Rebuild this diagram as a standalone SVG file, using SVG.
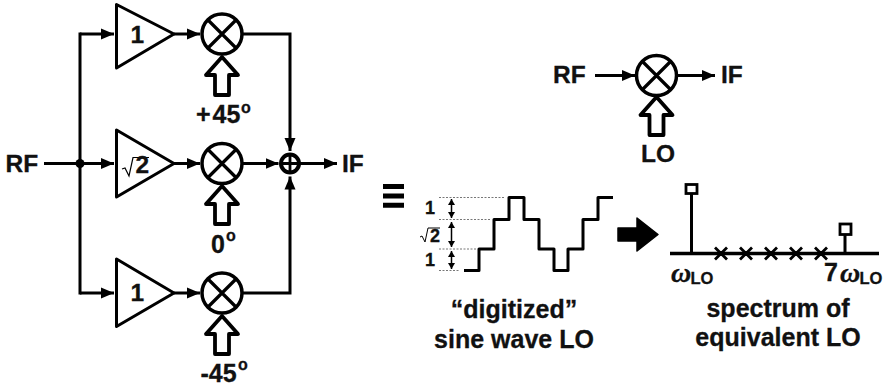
<svg xmlns="http://www.w3.org/2000/svg" width="885" height="386" viewBox="0 0 885 386">
<style>
text{font-family:"Liberation Sans",Arial,sans-serif;font-weight:bold;fill:#111;stroke:#111;stroke-width:.3px}
.l{font-size:24.500px}
.m{font-size:25px}
.s{font-size:16px}
.n{font-size:18px}
.o{font-family:"Liberation Serif",serif;font-style:italic;font-size:28px}
.u{font-size:16.500px}
.w{fill:none;stroke:#000;stroke-width:3;stroke-linejoin:round}
.c{fill:none;stroke:#000;stroke-width:3;stroke-linejoin:miter}
.t{fill:#fff;stroke:#000;stroke-width:3;stroke-linejoin:round}
.d{fill:none;stroke:#777;stroke-width:1;stroke-dasharray:2 1.500}
.a{fill:none;stroke:#000;stroke-width:1.500}
</style>
<defs>
<marker id="ah" markerUnits="userSpaceOnUse" markerWidth="14" markerHeight="12" refX="13" refY="6" orient="auto"><path d="M0 .5 L13 6 L0 11.500 Z" fill="#000"/></marker>
<marker id="sm" markerUnits="userSpaceOnUse" markerWidth="7" markerHeight="10" refX="6" refY="4" orient="auto-start-reverse"><path d="M0 .5 L6 4 L0 7.500 Z" fill="#000"/></marker>
<g id="mix"><circle r="20" fill="#fff" stroke="#000" stroke-width="3.500"/><path d="M-14-14 14 14M-14 14 14-14" stroke="#000" stroke-width="3.200" fill="none"/></g>
<path id="blk" d="M0 0 L16 18 H7 V38 H-7 V18 H-16 Z" fill="#fff" stroke="#000" stroke-width="3.800" stroke-linejoin="round"/>
</defs>
<g id="connectors">
<path class="c" d="M44 163.500H114" marker-end="url(#ah)"/>
<path class="c" d="M80 32.500V294.500"/>
<path class="c" d="M80 34H114" marker-end="url(#ah)"/>
<path class="c" d="M80 293H114" marker-end="url(#ah)"/>
<path class="c" d="M174 34H200" marker-end="url(#ah)"/>
<path class="c" d="M174 163.500H200" marker-end="url(#ah)"/>
<path class="c" d="M174 293H200" marker-end="url(#ah)"/>
<path class="c" d="M242 34H290V151" marker-end="url(#ah)"/>
<path class="c" d="M242 293H290V176.500" marker-end="url(#ah)"/>
<path class="c" d="M242 163.500H278.500" marker-end="url(#ah)"/>
<path class="c" d="M300 163.500H337" marker-end="url(#ah)"/>
<circle cx="80" cy="163.500" r="4.500" fill="#000"/>
<path class="c" d="M595 75.500H635" marker-end="url(#ah)"/>
<path class="c" d="M678 75.500H715" marker-end="url(#ah)"/>
</g>
<g id="amp1"><path class="t" d="M116.500 4.500V68L174 34Z"/><text class="l" x="130.500" y="43">1</text></g>
<g id="amp2"><path class="t" d="M116.500 130V197L174 163.500Z"/><path d="M122 169l3-1 4 8 4-18.500h16" fill="none" stroke="#000" stroke-width="1.200"/><text class="l" x="135.500" y="173">2</text></g>
<g id="amp3"><path class="t" d="M116.500 259V326.500L174 293Z"/><text class="l" x="130.500" y="301">1</text></g>
<g id="mixer1"><use href="#mix" x="222" y="34"/><use href="#blk" x="222" y="57"/><text class="m" x="196" y="123">+</text><text class="m" x="212.500" y="123">45</text><text x="241" y="113" class="s">o</text></g>
<g id="mixer2"><use href="#mix" x="222" y="163.500"/><use href="#blk" x="222" y="186"/><text class="m" x="211" y="252.500">0</text><text x="226" y="241" class="s">o</text></g>
<g id="mixer3"><use href="#mix" x="222" y="293"/><use href="#blk" x="222" y="316"/><text class="m" x="200.500" y="381.500">-45</text><text x="238" y="370" class="s">o</text></g>
<g id="sum"><circle cx="290" cy="163.500" r="9" fill="#fff" stroke="#000" stroke-width="4"/><path d="M281 163.500H299M290 154.500V172.500" stroke="#000" stroke-width="2.800"/></g>
<g id="rf-label"><text class="l" x="5.500" y="171.500">RF</text></g>
<g id="if-label"><text class="l" x="342" y="171.500">IF</text></g>
<g id="equiv"><path d="M383 186.500h21M383 196h21M383 205.200h21" stroke="#000" stroke-width="5"/></g>
<g id="simple-mixer"><use href="#mix" x="656.500" y="75.500"/><use href="#blk" x="656.500" y="97"/>
<text class="l" x="553" y="82.500">RF</text><text class="l" x="721" y="82.500">IF</text><text class="l" x="641" y="162">LO</text></g>
<g id="waveform">
<path class="d" d="M439 197.500H505M439 219.500H490M439 249H476M439 270.500H460"/>
<path class="a" d="M451.500 199V218" marker-start="url(#sm)" marker-end="url(#sm)"/>
<path class="a" d="M451.500 222V247" marker-start="url(#sm)" marker-end="url(#sm)"/>
<path class="a" d="M451.500 251V269" marker-start="url(#sm)" marker-end="url(#sm)"/>
<text class="n" x="425" y="214">1</text>
<path d="M420 237l2-1 3 6 3-14h12" fill="none" stroke="#000" stroke-width="1"/>
<text class="n" x="430" y="242">2</text>
<text class="n" x="425" y="266">1</text>
<path class="w" d="M464 270.500H479V249H494V219.500H509V197.500H524V219.500H539V249H554V270.500H568V249H583V219.500H598V197.500H613"/>
<text class="m" x="514" y="318" text-anchor="middle">“digitized”</text>
<text class="m" x="514" y="347.500" text-anchor="middle">sine wave LO</text>
</g>
<g id="big-arrow"><path d="M618 228H637V218L658 234.500 637 251V241H618Z" fill="#000" stroke="#000" stroke-width="1.500" stroke-linejoin="round"/></g>
<g id="spectrum">
<path d="M670 253.500H879" stroke="#000" stroke-width="3.500"/>
<path d="M691.500 253.500V190M845 253.500V235" stroke="#000" stroke-width="3"/>
<rect x="686" y="184.500" width="11" height="9" fill="#fff" stroke="#000" stroke-width="2.800"/>
<rect x="840" y="224" width="11" height="10.500" fill="#fff" stroke="#000" stroke-width="2.800"/>
<path d="M715 247.500l12 12M727 247.500l-12 12M740 247.500l12 12M752 247.500l-12 12M765 247.500l12 12M777 247.500l-12 12M790 247.500l12 12M802 247.500l-12 12M815 247.500l12 12M827 247.500l-12 12" stroke="#000" stroke-width="2.800"/>
<text class="o" x="671" y="282">ω</text>
<text class="u" x="690.500" y="284">LO</text>
<text class="m" x="824" y="281">7</text>
<text class="o" x="840" y="282">ω</text>
<text class="u" x="859.500" y="284">LO</text>
<text class="m" x="778" y="317" text-anchor="middle">spectrum of</text>
<text class="m" x="778" y="346" text-anchor="middle">equivalent LO</text>
</g>
</svg>
